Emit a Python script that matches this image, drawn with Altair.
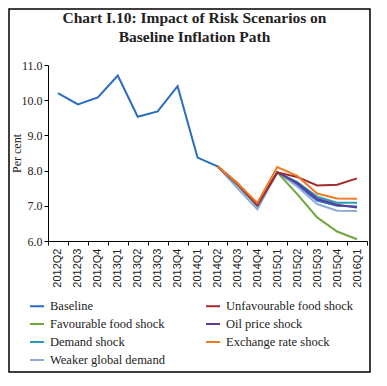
import altair as alt
import pandas as pd

quarters = ["2012Q2", "2012Q3", "2012Q4", "2013Q1", "2013Q2", "2013Q3", "2013Q4", "2014Q1",
            "2014Q2", "2014Q3", "2014Q4", "2015Q1", "2015Q2", "2015Q3", "2015Q4", "2016Q1"]
proj_quarters = quarters[8:]

baseline = [10.2, 9.88, 10.08, 10.7, 9.53, 9.68, 10.4, 8.37, 8.12, 7.6, 7.0, 7.95, 7.6, 7.15, 7.0, 6.98]
unfavourable = [8.12, 7.62, 7.02, 7.95, 7.82, 7.58, 7.6, 7.78]
favourable = [8.12, 7.6, 7.0, 7.95, 7.33, 6.67, 6.27, 6.05]
oil = [8.12, 7.65, 7.02, 7.95, 7.65, 7.2, 7.03, 6.95]
demand = [8.12, 7.6, 7.0, 7.95, 7.67, 7.26, 7.09, 7.09]
exchange = [8.12, 7.64, 7.08, 8.1, 7.85, 7.35, 7.21, 7.2]
weaker = [8.12, 7.5, 6.9, 7.95, 7.55, 7.05, 6.86, 6.85]

# legend fills column-wise: this order gives rows
# Baseline | Unfavourable, Favourable | Oil, Demand | Exchange, Weaker
series_names = ["Baseline", "Favourable food shock", "Demand shock", "Weaker global demand",
                "Unfavourable food shock", "Oil price shock", "Exchange rate shock"]
series_colors = ["#2b6cc0", "#6fa83c", "#2a9db5", "#8eaad8", "#a12b2e", "#5a3c98", "#f07a22"]

rows = []
for q, v in zip(quarters, baseline):
    rows.append({"series": "Baseline", "quarter": q, "value": v, "ord": 0})
draw = [("Weaker global demand", weaker, 1), ("Favourable food shock", favourable, 2),
        ("Demand shock", demand, 3), ("Oil price shock", oil, 4),
        ("Unfavourable food shock", unfavourable, 5), ("Exchange rate shock", exchange, 6)]
for name, vals, o in draw:
    for q, v in zip(proj_quarters, vals):
        rows.append({"series": name, "quarter": q, "value": v, "ord": o})
df = pd.DataFrame(rows)

serif = "Liberation Serif"
sans = "Liberation Sans"

lines = alt.Chart(df).mark_line(strokeWidth=2).encode(
    x=alt.X("quarter:N", sort=quarters, bandPosition=0.5,
            scale=alt.Scale(type="band", paddingInner=0, paddingOuter=0),
            axis=alt.Axis(title=None, labelAngle=-90, labelFont=sans, labelFontSize=11,
                          labelColor="#222", tickBand="extent", tickSize=4, tickColor="#000",
                          domainColor="#000", labelPadding=3, labelAlign="right",
                          labelBaseline="middle")),
    y=alt.Y("value:Q", scale=alt.Scale(domain=[6, 11], nice=False, zero=False),
            axis=alt.Axis(title="Per cent", values=[6, 7, 8, 9, 10, 11], format=".1f",
                          grid=False, labelFont=serif, labelFontSize=12, labelColor="#222",
                          titleFont=serif, titleFontSize=12, titleFontWeight="normal",
                          titleColor="#222", titlePadding=-2, tickSize=4, tickColor="#000",
                          domainColor="#000")),
    color=alt.Color("series:N", scale=alt.Scale(domain=series_names, range=series_colors),
                    legend=alt.Legend(title=None, orient="none", legendX=-19, legendY=233,
                                      columns=2, columnPadding=37, rowPadding=3,
                                      symbolType="stroke", symbolSize=196, symbolStrokeWidth=2,
                                      labelFont=serif, labelFontSize=12.5, labelColor="#222",
                                      labelOffset=5, labelLimit=300)),
    order=alt.Order("ord:Q"),
    detail="series:N",
)

frame = alt.Chart(pd.DataFrame({"a": [0]})).mark_rect(
    filled=False, stroke="#000", strokeWidth=1.5
).encode(x=alt.value(-39), x2=alt.value(322), y=alt.value(-56), y2=alt.value(307))

chart = alt.layer(lines, frame).properties(
    width=319, height=176,
    autosize=alt.AutoSizeParams(type="none"),
    padding={"left": 40, "top": 57, "right": 12, "bottom": 135},
    title=alt.TitleParams(text=["Chart I.10: Impact of Risk Scenarios on", "Baseline Inflation Path"],
                          font=serif, fontSize=15.5, fontWeight="bold", color="#222",
                          anchor="middle", frame="group", dx=-13, offset=-37, lineHeight=19),
).configure_view(stroke=None).configure_axis(labelFlush=False)

chart.save("out.html", embed_options={"renderer": "svg", "actions": False})
